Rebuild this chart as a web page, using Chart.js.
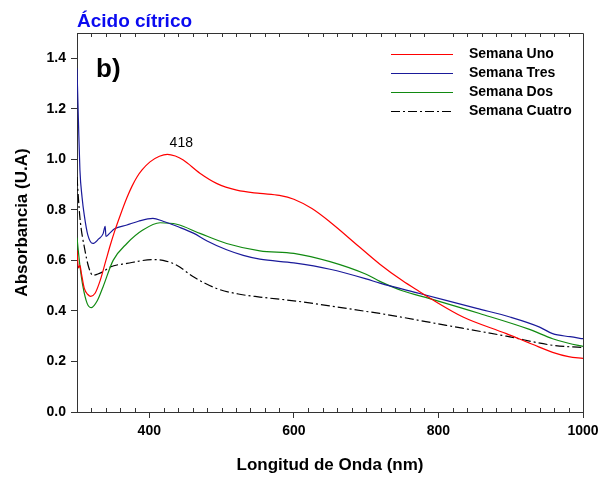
<!DOCTYPE html>
<html>
<head>
<meta charset="utf-8">
<script src="https://cdn.jsdelivr.net/npm/chart.js@4"></script>
<style>
  html, body { margin: 0; padding: 0; background: #fff; }
  canvas { display: block; }
</style>
</head>
<body>
<canvas id="chart" width="608" height="478"></canvas>
<script>
// wavelengths (nm) and absorbance
const unoX = [300, 302, 304, 306, 310, 315, 319, 325, 332, 340, 346, 352, 360, 369, 376, 383, 390, 401, 414, 425, 436, 447, 470, 493, 521, 553, 580, 600, 625, 650, 690, 719, 750, 774, 792, 834, 894, 930, 958, 980, 1000];
const unoY = [0.64, 0.57, 0.58, 0.55, 0.49, 0.465, 0.458, 0.47, 0.52, 0.60, 0.66, 0.715, 0.78, 0.848, 0.893, 0.93, 0.958, 0.99, 1.012, 1.02, 1.013, 0.997, 0.945, 0.905, 0.878, 0.865, 0.857, 0.842, 0.805, 0.752, 0.655, 0.585, 0.52, 0.476, 0.444, 0.376, 0.31, 0.268, 0.236, 0.219, 0.212];

const tresX = [300, 302, 304, 307, 310, 315, 322, 330, 336, 339, 340, 345, 352, 369, 385, 405, 419, 440, 461, 480, 507, 530, 553, 600, 650, 700, 719, 774, 853, 900, 940, 958, 982, 1000];
const tresY = [1.36, 1.15, 0.96, 0.85, 0.78, 0.70, 0.667, 0.685, 0.705, 0.735, 0.695, 0.707, 0.725, 0.74, 0.755, 0.766, 0.755, 0.733, 0.708, 0.677, 0.642, 0.62, 0.605, 0.59, 0.565, 0.527, 0.51, 0.469, 0.41, 0.375, 0.336, 0.31, 0.298, 0.29];

const dosX = [300, 304, 308, 314, 320, 328, 336, 350, 369, 391, 415, 438, 470, 507, 553, 600, 650, 700, 719, 750, 788, 857, 926, 958, 980, 1000];
const dosY = [0.69, 0.58, 0.50, 0.43, 0.413, 0.44, 0.495, 0.60, 0.667, 0.72, 0.749, 0.743, 0.707, 0.667, 0.638, 0.628, 0.595, 0.545, 0.517, 0.48, 0.449, 0.39, 0.327, 0.29, 0.272, 0.26];

const cuatroX = [300, 304, 311, 316, 322, 328, 336, 346, 369, 405, 419, 438, 461, 493, 525, 553, 600, 650, 700, 719, 811, 894, 958, 1000];
const cuatroY = [0.93, 0.77, 0.64, 0.575, 0.541, 0.545, 0.555, 0.574, 0.588, 0.603, 0.60, 0.581, 0.535, 0.489, 0.466, 0.455, 0.44, 0.42, 0.398, 0.39, 0.343, 0.30, 0.264, 0.255];

const seriesNames = ['Semana Uno', 'Semana Tres', 'Semana Dos', 'Semana Cuatro'];
const xTicks = [400, 600, 800, 1000];
const yTicks = [0, 0.2, 0.4, 0.6, 0.8, 1.0, 1.2, 1.4];
const peakLabel = { x: 418, y: 1.02, text: '418' };

const pts = (xs, ys) => xs.map((x, i) => ({ x: x, y: ys[i] }));

const FONT = '"Liberation Sans", Arial, sans-serif';
const AXIS = '#333';

// frame, minor ticks, legend and texts
const decorations = {
    id: 'decorations',
    afterDraw(chart) {
        const ctx = chart.ctx;
        const area = chart.chartArea;
        const xs = chart.scales.x;
        ctx.save();
        ctx.strokeStyle = AXIS;
        ctx.lineWidth = 1;
        ctx.beginPath();
        ctx.moveTo(area.left, area.top + 0.5);
        ctx.lineTo(area.right + 0.5, area.top + 0.5);
        ctx.lineTo(area.right + 0.5, area.bottom);
        ctx.stroke();

        // minor ticks every 20 nm, inside bottom and top
        ctx.beginPath();
        for (let v = 320; v < 1000; v += 20) {
            if (v % 200 === 0) continue;
            const px = Math.round(xs.getPixelForValue(v)) + 0.5;
            ctx.moveTo(px, area.bottom);
            ctx.lineTo(px, area.bottom - 4);
            ctx.moveTo(px, area.top);
            ctx.lineTo(px, area.top + 4);
        }
        ctx.stroke();

        // title
        ctx.fillStyle = '#0a0af0';
        ctx.font = 'bold 19px ' + FONT;
        ctx.textBaseline = 'alphabetic';
        ctx.textAlign = 'left';
        ctx.fillText('Ácido cítrico', 77, 27);

        ctx.fillStyle = '#000';
        ctx.font = 'bold 26px ' + FONT;
        ctx.fillText('b)', 96, 77);

        // peak label
        ctx.font = '14px ' + FONT;
        ctx.textAlign = 'center';
        ctx.fillText(peakLabel.text, xs.getPixelForValue(peakLabel.x) + 19,
            chart.scales.y.getPixelForValue(peakLabel.y) - 7);

        // legend
        ctx.font = 'bold 14px ' + FONT;
        ctx.textAlign = 'left';
        ctx.textBaseline = 'middle';
        chart.data.datasets.forEach((ds, i) => {
            const y = 54 + i * 19;
            ctx.strokeStyle = ds.borderColor;
            ctx.lineWidth = 1.2;
            ctx.setLineDash(ds.borderDash || []);
            ctx.beginPath();
            ctx.moveTo(391, y + 0.5);
            ctx.lineTo(453, y + 0.5);
            ctx.stroke();
            ctx.setLineDash([]);
            ctx.fillStyle = '#000';
            ctx.fillText(ds.label, 469, y);
        });
        ctx.restore();
    }
};

const lineStyle = { borderWidth: 1.2, pointRadius: 0, fill: false, cubicInterpolationMode: 'monotone' };

new Chart(document.getElementById('chart'), {
    type: 'line',
    data: {
        datasets: [
            Object.assign({ label: seriesNames[0], data: pts(unoX, unoY), borderColor: '#ff0000' }, lineStyle),
            Object.assign({ label: seriesNames[1], data: pts(tresX, tresY), borderColor: '#1a1a9a' }, lineStyle),
            Object.assign({ label: seriesNames[2], data: pts(dosX, dosY), borderColor: '#118a11' }, lineStyle),
            Object.assign({ label: seriesNames[3], data: pts(cuatroX, cuatroY), borderColor: '#000000', borderDash: [9, 3, 2, 3] }, lineStyle)
        ]
    },
    options: {
        responsive: false,
        animation: false,
        layout: { padding: { top: 33, right: 25, left: 0, bottom: 0 } },
        plugins: { legend: { display: false }, tooltip: { enabled: false } },
        scales: {
            x: {
                type: 'linear',
                min: 300,
                max: 1000,
                afterBuildTicks: s => { s.ticks = xTicks.map(v => ({ value: v })); },
                afterFit: s => { s.height = 66; },
                ticks: { color: '#000', font: { family: FONT, size: 14, weight: 'bold' }, padding: 5, maxRotation: 0, autoSkip: false,
                         callback: v => String(v) },
                grid: { drawOnChartArea: false, tickLength: 6, color: AXIS },
                border: { color: AXIS },
                title: { display: true, text: 'Longitud de Onda (nm)', color: '#000',
                         font: { family: FONT, size: 17, weight: 'bold' }, padding: { top: 0, bottom: 2 } }
            },
            y: {
                min: 0,
                max: 1.5,
                afterBuildTicks: s => { s.ticks = yTicks.map(v => ({ value: v })); },
                afterFit: s => { s.width = 77; },
                ticks: { color: '#000', font: { family: FONT, size: 14, weight: 'bold' }, padding: 5,
                         callback: v => v.toFixed(1) },
                grid: { drawOnChartArea: false, tickLength: 6, color: AXIS },
                border: { color: AXIS },
                title: { display: true, text: 'Absorbancia (U.A)', color: '#000',
                         font: { family: FONT, size: 17, weight: 'bold' }, padding: { top: 12, bottom: 0 } }
            }
        }
    },
    plugins: [decorations]
});
</script>
</body>
</html>
